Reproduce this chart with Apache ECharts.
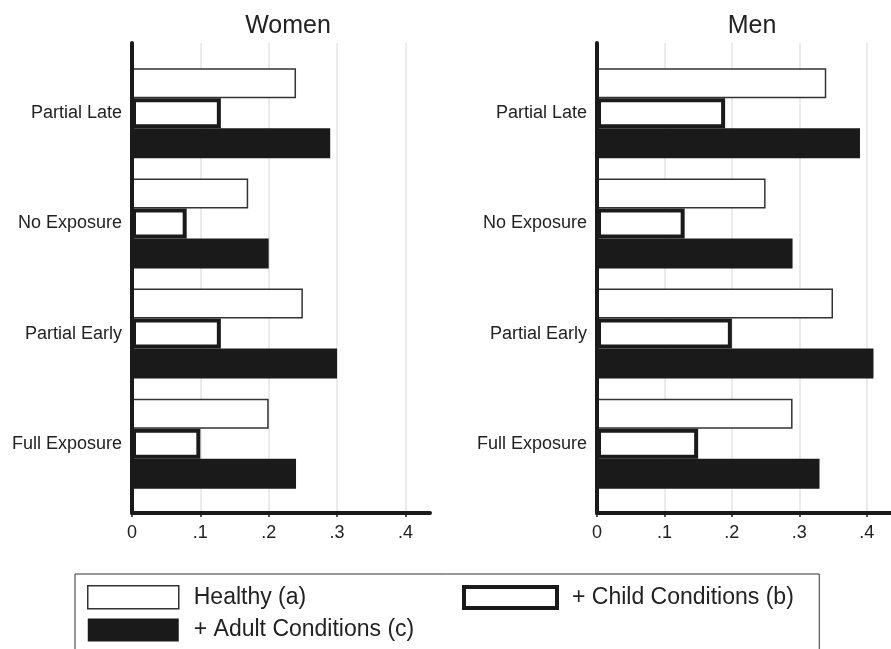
<!DOCTYPE html>
<html><head><meta charset="utf-8">
<script src="https://cdn.jsdelivr.net/npm/echarts@6/dist/echarts.min.js"></script>
<style>html,body{margin:0;padding:0;background:#fff}#c{width:891px;height:649px}</style>
</head><body><div id="c"></div>
<script>
// categories listed bottom-to-top (category axis runs upward)
const categories = ['Full Exposure', 'Partial Early', 'No Exposure', 'Partial Late'];
const panelTitles = ['Women', 'Men'];
const seriesNames = ['Healthy (a)', '+ Child Conditions (b)', '+ Adult Conditions (c)'];
const womenHealthy = [0.20, 0.25, 0.17, 0.24];
const womenChild   = [0.10, 0.13, 0.08, 0.13];
const womenAdult   = [0.24, 0.30, 0.20, 0.29];
const menHealthy   = [0.29, 0.35, 0.25, 0.34];
const menChild     = [0.15, 0.20, 0.13, 0.19];
const menAdult     = [0.33, 0.41, 0.29, 0.39];
const xTickValues  = [0, 0.1, 0.2, 0.3, 0.4];
const xTickLabels  = ['0', '.1', '.2', '.3', '.4'];

const FONT = "'Liberation Sans', Arial, Helvetica, sans-serif";
const INK = '#1a1a1a';
const XMAX = 0.436;
const panelData = [
  [womenHealthy, womenChild, womenAdult],
  [menHealthy, menChild, menAdult]
];
const panelLeft = [132, 597];
const panelWidth = 298;
const titleCenter = [283, 747];

const styles = [
  { color: '#ffffff', borderColor: '#333333', borderWidth: 1.5 },
  { color: '#ffffff', borderColor: INK, borderWidth: 4 },
  { color: INK, borderColor: INK, borderWidth: 0 }
];

function labelFor(v) {
  for (let i = 0; i < xTickValues.length; i++) {
    if (Math.abs(v - xTickValues[i]) < 1e-9) return xTickLabels[i];
  }
  return '';
}

const grid = [], xAxis = [], yAxis = [], series = [], title = [];
panelData.forEach((pd, p) => {
  const L = panelLeft[p];
  const base = grid.length;
  grid.push({ left: L, width: panelWidth, top: 43, height: 470 });
  grid.push({ left: L, width: panelWidth, top: 58.3, height: 440.4 });
  grid.push({ left: L, width: panelWidth, top: 43, height: 470 });

  xAxis.push({
    gridIndex: base, type: 'value', min: 0, max: XMAX, interval: 0.1, z: 0,
    axisLine: { show: false }, axisTick: { show: false }, axisLabel: { show: false },
    splitLine: { show: true, lineStyle: { width: 1.5, color: ['#e4e4e4', '#e4e4e4', '#e4e4e4', '#e4e4e4', '#e4e4e4', 'rgba(0,0,0,0)'] } }
  });
  yAxis.push({ gridIndex: base, type: 'value', min: 0, max: 1, show: false });

  xAxis.push({ gridIndex: base + 1, type: 'value', min: 0, max: XMAX, show: false, splitLine: { show: false } });
  yAxis.push({
    gridIndex: base + 1, type: 'category', data: categories,
    axisLine: { show: false }, axisTick: { show: false }, splitLine: { show: false },
    axisLabel: { margin: 10, fontSize: 18, color: '#222', fontFamily: FONT }
  });

  xAxis.push({
    gridIndex: base + 2, type: 'value', min: 0, max: XMAX, interval: 0.1, z: 10,
    axisLine: { show: true, lineStyle: { color: INK, width: 4 } },
    axisTick: { show: true, length: 4, customValues: xTickValues, lineStyle: { color: INK, width: 1.5 } },
    axisLabel: { margin: 11, fontSize: 18, color: '#222', fontFamily: FONT, formatter: labelFor, customValues: xTickValues },
    splitLine: { show: false }
  });
  yAxis.push({
    gridIndex: base + 2, type: 'value', min: 0, max: 1, z: 10,
    axisLine: { show: true, lineStyle: { color: INK, width: 4 } },
    axisTick: { show: false }, axisLabel: { show: false }, splitLine: { show: false }
  });

  // first series sits on top of each group: healthy, child, adult
  [0, 1, 2].forEach(k => {
    series.push({
      type: 'bar', name: seriesNames[k],
      xAxisIndex: base + 1, yAxisIndex: base + 1,
      data: pd[k], barWidth: 30, barGap: '0%',
      itemStyle: styles[k], emphasis: { disabled: true }, silent: true, z: 2 + (k === 1 ? 1 : 0)
    });
  });

  title.push({
    text: panelTitles[p], left: titleCenter[p], top: 9, textAlign: 'center',
    textStyle: { fontFamily: FONT, fontSize: 25, fontWeight: 'normal', color: '#222' }
  });
});

const legendText = { fontFamily: FONT, fontSize: 23, color: '#222', padding: [0, 0, 0, 10] };
const option = {
  animation: false,
  backgroundColor: '#ffffff',
  title: title,
  grid: grid, xAxis: xAxis, yAxis: yAxis, series: series,
  legend: [
    {
      orient: 'vertical', left: 75, top: 574, height: 60, itemWidth: 91, itemHeight: 23, itemGap: 9,
      padding: [11, 405, 40, 12], borderColor: '#333', borderWidth: 1,
      selectedMode: false, icon: 'rect', textStyle: legendText,
      data: [
        { name: seriesNames[0], icon: 'rect', itemStyle: styles[0] },
        { name: seriesNames[2], icon: 'rect', itemStyle: styles[2] }
      ]
    },
    {
      orient: 'vertical', left: 462, top: 585, itemWidth: 93, itemHeight: 21, padding: 0,
      selectedMode: false, icon: 'rect', textStyle: legendText,
      data: [{ name: seriesNames[1], icon: 'rect', itemStyle: styles[1] }]
    }
  ]
};
const chart = echarts.init(document.getElementById('c'), null, { renderer: 'canvas' });
chart.setOption(option);
</script></body></html>
